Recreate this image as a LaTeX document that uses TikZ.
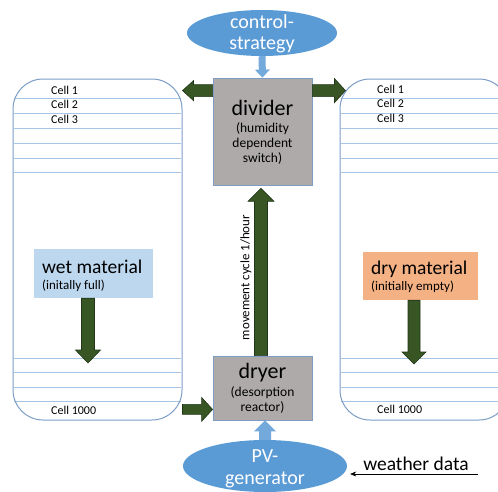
\documentclass[tikz,border=0pt]{standalone}
\usepackage{fontspec}
\setmainfont{Carlito}
\usetikzlibrary{calc,arrows.meta,shapes.geometric}

\definecolor{frameblue}{HTML}{7B9CC6}
\definecolor{cellblue}{HTML}{A7C6E6}
\definecolor{ellblue}{HTML}{5B9BD5}
\definecolor{boxgray}{HTML}{AEAAAA}
\definecolor{boxedge}{HTML}{7F9CC4}
\definecolor{darkgreen}{HTML}{375623}
\definecolor{greenedge}{HTML}{22361A}
\definecolor{wetfill}{HTML}{BDD7EE}
\definecolor{dryfill}{HTML}{F4B183}

% block arrow: [style]{from}{to}{shaft half width}{head half width}{head length}
\newcommand\blockarrow[6][]{%
  \coordinate (ba-s) at (#2);
  \coordinate (ba-t) at (#3);
  \coordinate (ba-h) at ($(ba-t)!#6!(ba-s)$);
  \path[#1] ($(ba-s)!#4!90:(ba-t)$) -- ($(ba-h)!#4!90:(ba-t)$)
     -- ($(ba-h)!#5!90:(ba-t)$) -- (ba-t) -- ($(ba-h)!#5!-90:(ba-t)$)
     -- ($(ba-h)!#4!-90:(ba-t)$) -- ($(ba-s)!#4!-90:(ba-t)$) -- cycle;
}

\tikzset{
  container/.style={draw=frameblue, line width=1pt, rounded corners=30pt,
    minimum width=169pt, minimum height=341pt, inner sep=0pt},
  cellline/.style={draw=cellblue, line width=1pt},
  celltext/.style={anchor=base west, inner sep=0pt, font=\fontsize{12}{14}\selectfont},
  process/.style={draw=boxedge, fill=boxgray, line width=0.8pt, inner sep=0pt,
    minimum width=99pt},
  oval/.style={ellipse, fill=ellblue, inner sep=0pt},
  ovaltext/.style={anchor=base, inner sep=0pt, text=white, font=\fontsize{20}{24}\selectfont},
  bigtext/.style={anchor=base, inner sep=0pt, font=\fontsize{22}{26}\selectfont},
  smalltext/.style={anchor=base, inner sep=0pt, font=\fontsize{13.5}{16}\selectfont},
  tagtitle/.style={anchor=base west, inner sep=0pt, font=\fontsize{19.5}{23}\selectfont},
  tagnote/.style={anchor=base west, inner sep=0pt, font=\fontsize{13}{15}\selectfont},
  greenarrow/.style={fill=darkgreen, draw=greenedge, line width=0.6pt},
  bluearrow/.style={fill=ellblue!85!white},
}

\begin{document}
\begin{tikzpicture}[x=1pt,y=-1pt]
\useasboundingbox (0,0) rectangle (498,491);
\clip (0,0) rectangle (498,491);

% storage cell separators of both stores
\foreach \yy in {98,113,128,143,158,172,358,372,387,401}{
  \draw[cellline] (14,\yy) -- (181,\yy);
  \draw[cellline] (341,\yy) -- (508,\yy);
}
\node[container] (wet) at (97.5,249.5) {};
\node[container] (dry) at (424.5,249.5) {};

\node[celltext] (w1) at (51,94) {Cell 1};
\node[celltext] (w2) at (51,108) {Cell 2};
\node[celltext] (w3) at (51,123) {Cell 3};
\node[celltext] (w1000) at (51,414) {Cell 1000};
\node[celltext] (d1) at (377,93) {Cell 1};
\node[celltext] (d2) at (377,107) {Cell 2};
\node[celltext] (d3) at (377,122) {Cell 3};
\node[celltext] (d1000) at (377,413) {Cell 1000};

% material labels
\node[fill=wetfill, minimum width=119pt, minimum height=49pt, inner sep=0pt] (wetlab) at (93.5,273.5) {};
\node[tagtitle] (wett) at (42,273) {wet material};
\node[tagnote] (wetn) at (42,289) {(initally full)};
\node[fill=dryfill, minimum width=115pt, minimum height=48pt, inner sep=0pt] (drylab) at (420.5,276) {};
\node[tagtitle] (dryt) at (371,274) {dry material};
\node[tagnote] (dryn) at (371,290) {(initially empty)};

% process boxes
\node[process, minimum height=107pt] (div) at (262.5,131.5) {};
\node[bigtext] (divt) at (262.5,115) {divider};
\node[smalltext] (divn1) at (262.5,132) {(humidity};
\node[smalltext] (divn2) at (262.5,147) {dependent};
\node[smalltext] (divn3) at (262.5,162) {switch)};
\node[process, minimum height=64pt] (dryer) at (262.5,388) {};
\node[bigtext] (dryt) at (262.5,378) {dryer};
\node[smalltext] (dryn1) at (262.5,396) {(desorption};
\node[smalltext] (dryn2) at (262.5,411) {reactor)};

% ellipses
\node[oval, minimum width=150pt, minimum height=46pt] (ctrl) at (262,33) {};
\node[ovaltext] (ctrl1) at (262,28) {control-};
\node[ovaltext] (ctrl2) at (262,49) {strategy};
\node[oval, minimum width=164pt, minimum height=52pt] (pv) at (265,466) {};
\node[ovaltext] (pv1) at (265,462) {PV-};
\node[ovaltext] (pv2) at (265,484) {generator};

% weather input
\node[anchor=base, inner sep=0pt, font=\fontsize{19.5}{23}\selectfont] (wx) at (416,470) {weather data};
\coordinate (wxs) at (478,474);
\draw[line width=0.5pt, -{Stealth[length=6pt,width=5pt]}] (wxs) -- ($(wxs -| pv.east)+(3,0)$);

% blue supply arrows
\blockarrow[bluearrow]{ctrl.south}{div.north}{3.5pt}{7.5pt}{8pt}
\blockarrow[bluearrow]{pv.north}{dryer.south -| pv.north}{6pt}{11pt}{11pt}

% material flow arrows
\coordinate (dl) at ($(div.north west)+(0,13)$);
\coordinate (dr) at ($(div.north east)+(0,13)$);
\blockarrow[greenarrow]{dl}{dl -| wet.east}{6pt}{10pt}{11pt}
\blockarrow[greenarrow]{dr}{$(dr -| dry.west)+(6,0)$}{6pt}{12pt}{11pt}
\coordinate (dyin) at ($(dryer.south west)+(0,-11)$);
\blockarrow[greenarrow]{dyin -| wet.east}{dyin}{5pt}{12pt}{11pt}
\coordinate (upx) at (261,0);
\blockarrow[greenarrow]{dryer.north -| upx}{$(div.south -| upx)+(0,3)$}{6.5pt}{13pt}{13pt}
\blockarrow[greenarrow]{wetlab.south -| 88,0}{88,363}{6.5pt}{12.5pt}{13pt}
\blockarrow[greenarrow]{drylab.south -| 414,0}{414,364}{6pt}{12pt}{12pt}

\node[rotate=90, inner sep=0pt, font=\fontsize{12.9}{15}\selectfont] (cyc) at (246,277.5) {movement cycle 1/hour};
\end{tikzpicture}
\end{document}
